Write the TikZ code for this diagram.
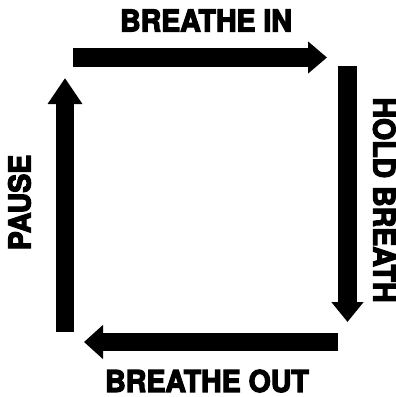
\documentclass[tikz,border=0pt]{standalone}
\usepackage{fontspec}
\newfontfamily\lbl{TeX Gyre Heros}[UprightFont={* Bold}, UprightFeatures={FakeBold=4, FakeStretch=0.95}]
\usetikzlibrary{arrows.meta}
\tikzset{
  blk/.style={line width=#1, draw=black},
  lab/.style={font=\lbl\fontsize{30}{30}\selectfont, inner sep=0pt, anchor=center}
}
\begin{document}
\begin{tikzpicture}[x=1pt,y=-1pt]
\useasboundingbox[fill=white] (0,0) rectangle (396,397);
\coordinate (t1) at (73,57.5);  \coordinate (t2) at (327,57.5);
\coordinate (r1) at (347.5,66); \coordinate (r2) at (347.5,322);
\coordinate (b1) at (338,342);  \coordinate (b2) at (84,342);
\coordinate (l1) at (65,332);   \coordinate (l2) at (65,78);
\draw[blk=19pt, -{Triangle[length=19pt,width=31pt]}] (t1) -- (t2);
\draw[blk=19pt, -{Triangle[length=20pt,width=31pt]}] (r1) -- (r2);
\draw[blk=18pt, -{Triangle[length=19pt,width=33pt]}] (b1) -- (b2);
\draw[blk=18pt, -{Triangle[length=26pt,width=33pt]}] (l1) -- (l2);
\node[lab] (tin) at (206,20.5) {BREATHE IN};
\node[lab, rotate=-90] (thold) at (384.3,200) {HOLD BREATH};
\node[lab] (tout) at (207,381) {BREATHE OUT};
\node[lab, rotate=90] (tpause) at (19.5,202.5) {PAUSE};
\end{tikzpicture}
\end{document}
